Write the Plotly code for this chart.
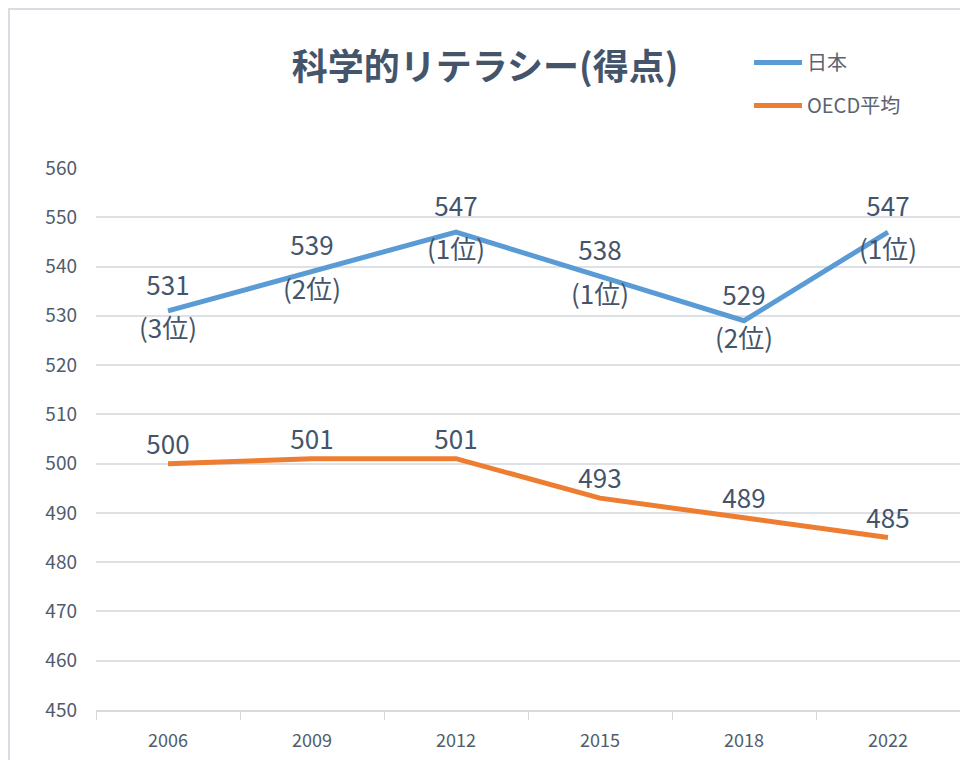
import plotly.graph_objects as go

years = ["2006", "2009", "2012", "2015", "2018", "2022"]
japan = [531, 539, 547, 538, 529, 547]
japan_rank = ["(3位)", "(2位)", "(1位)", "(1位)", "(2位)", "(1位)"]
oecd = [500, 501, 501, 493, 489, 485]
y_ticks = list(range(450, 561, 10))

FONT = "Noto Sans CJK JP"
TXT = "#44546A"
TICK = "#505C6C"
BLUE = "#5B9BD5"
ORANGE = "#ED7D31"
CLEAR = "rgba(0,0,0,0)"

# page is offset 8px by body margin: figure coords = page coords - 8
W, H = 960, 752
L, R, T, B = 88, 8, 160, 50
PW, PH = W - L - R, H - T - B

fig = go.Figure()
fig.add_trace(go.Scatter(
    x=years, y=japan, name="日本", mode="lines+markers+text",
    line=dict(color=BLUE, width=5),
    marker=dict(size=14, color=CLEAR),
    text=[str(v) for v in japan], textposition="top center",
    textfont=dict(family=FONT, size=26, color=TXT),
    legendgroup="a", cliponaxis=False,
))
fig.add_trace(go.Scatter(
    x=years, y=japan, mode="markers+text", showlegend=False,
    marker=dict(size=11, color=CLEAR),
    text=japan_rank, textposition="bottom center",
    textfont=dict(family=FONT, size=26, color=TXT),
    hoverinfo="skip", cliponaxis=False,
))
fig.add_trace(go.Scatter(
    x=years, y=oecd, name="OECD平均", mode="lines+markers+text",
    line=dict(color=ORANGE, width=5),
    marker=dict(size=4, color=CLEAR),
    text=[str(v) for v in oecd], textposition="top center",
    textfont=dict(family=FONT, size=26, color=TXT),
    legendgroup="b", cliponaxis=False,
))

fig.update_layout(
    width=W, height=H,
    margin=dict(l=L, r=R, t=T, b=B),
    paper_bgcolor="white", plot_bgcolor="white",
    font=dict(family=FONT, color=TXT),
    title=dict(text="<b>科学的リテラシー(得点)</b>", x=477 / W, xref="container",
               y=1 - 59 / H, yref="container", yanchor="middle", xanchor="center",
               font=dict(family=FONT, size=36, color=TXT)),
    legend=dict(x=(741 - L) / PW, y=1 + (T - 35) / PH, xanchor="left", yanchor="top",
                font=dict(family=FONT, size=20, color="#5B6370"),
                tracegroupgap=14, traceorder="grouped", bgcolor=CLEAR,
                itemwidth=48),
    showlegend=True,
)
fig.update_xaxes(
    type="category", range=[-0.5, 5.5],
    showline=True, linecolor="#D9D9D9", linewidth=1.5,
    ticks="outside", tickson="boundaries", ticklen=8, tickcolor="#D9D9D9",
    showgrid=False, ticklabelstandoff=14,
    tickfont=dict(family=FONT, size=18, color=TICK),
)
fig.update_yaxes(
    range=[450, 560], tickvals=y_ticks,
    showgrid=True, gridcolor="#DDE1E6", gridwidth=1.5,
    zeroline=False, showline=False,
    ticks="", ticklabelstandoff=18,
    tickfont=dict(family=FONT, size=19, color=TICK),
)
fig.add_shape(type="rect", xref="paper", yref="paper",
              x0=(1 - L) / PW, x1=(955 - L) / PW,
              y0=-0.3, y1=1 + (T - 1) / PH,
              line=dict(color="#D9DDE3", width=2), layer="below")

fig.write_html("out.html")
